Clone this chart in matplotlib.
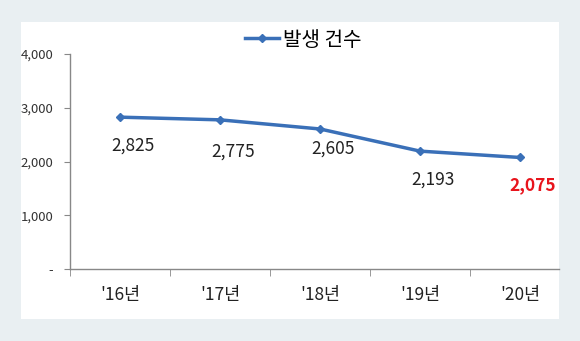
import matplotlib.pyplot as plt
from matplotlib.patches import Rectangle

plt.rcParams['font.family'] = ['Noto Sans CJK KR', 'DejaVu Sans']

# data
years = ["'16년", "'17년", "'18년", "'19년", "'20년"]
counts = [2825, 2775, 2605, 2193, 2075]
label_dy = [-28, -32, -20, -28, -28]  # label offset below each point (px)

fig = plt.figure(figsize=(5.8, 3.41), dpi=100)
fig.patch.set_facecolor('#e9eff2')
# white panel behind chart
fig.patches.append(Rectangle((21/580, 1-319/341), (559-21)/580, (319-22)/341,
                             transform=fig.transFigure, facecolor='white',
                             edgecolor='none', zorder=-1))

ax = fig.add_axes([70/580, 1-269/341, (559-70)/580, (269-54)/341])
ax.set_zorder(2)
ax.set_facecolor('none')

x = list(range(len(years)))
ax.plot(x, counts, color='#3a70b8', lw=2.5, marker='D', ms=4.5,
        label='발생 건수', zorder=3)

for i, v in enumerate(counts):
    last = i == len(counts) - 1
    ax.annotate(f'{v:,}', (i, v), xytext=(13, label_dy[i]),
                textcoords='offset pixels', ha='center', va='center',
                fontsize=12.5, color='#e8141c' if last else '#222222',
                fontweight='bold' if last else 'normal')

ax.set_xlim(-0.5, 4.39)
ax.set_ylim(0, 4000)
ax.set_yticks([0, 1000, 2000, 3000, 4000])
ax.set_yticklabels(['-', '1,000', '2,000', '3,000', '4,000'])
ax.set_xticks(x)
ax.set_xticklabels(years)
ax.set_xticks([-0.5, 0.5, 1.5, 2.5, 3.5], minor=True)

for s in ['top', 'right']:
    ax.spines[s].set_visible(False)
for s in ['left', 'bottom']:
    ax.spines[s].set_color('#888888')
    ax.spines[s].set_linewidth(1.0)

ax.tick_params(axis='y', labelsize=9.5, colors='#888888', labelcolor='#333333',
               length=4, pad=8)
ax.tick_params(axis='x', which='major', length=0, labelsize=12.5,
               labelcolor='#222222', pad=12)
ax.tick_params(axis='x', which='minor', length=5, color='#888888')

ax.legend(loc='center', bbox_to_anchor=(303/580, 1-40/341),
          bbox_transform=fig.transFigure, frameon=False, fontsize=14.5,
          handlelength=1.7, handletextpad=0.2)

plt.savefig('out.png', dpi=100, facecolor=fig.get_facecolor())
